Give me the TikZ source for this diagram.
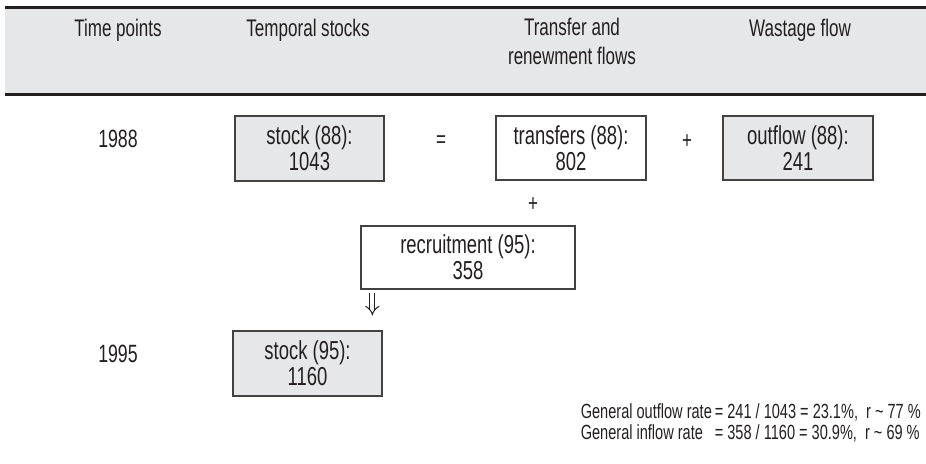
\documentclass[tikz,border=0pt]{standalone}
\usepackage{fontspec}
\setmainfont{Liberation Sans}[FakeStretch=0.71]
\usetikzlibrary{positioning,arrows.meta}
\definecolor{panelgray}{HTML}{E6E7E8}
\definecolor{inkgray}{HTML}{231F20}

\begin{document}
\begin{tikzpicture}[x=1pt, y=-1pt,
  every node/.style={text=inkgray, font=\fontsize{26}{26}\selectfont},
  box/.style={draw=inkgray!85, line width=1.2pt, align=center, minimum width=150pt, minimum height=64pt, inner sep=0pt},
  stockbox/.style={box, fill=panelgray},
  head/.style={align=center, font=\fontsize{24}{29}\selectfont, anchor=base},
  year/.style={anchor=base, font=\fontsize{25}{26}\selectfont},
  sign/.style={font=\fontsize{24}{24}\selectfont},
  imp/.style={draw=inkgray, line width=1pt, double, double distance=4pt, -{Implies}}]
  \useasboundingbox (0,0) rectangle (926,463);
  \fill[panelgray] (5,7) rectangle (926,94);
  \draw[inkgray, line width=3pt] (5,7) -- (926,7) (5,94) -- (926,94);
  \node[head] (hdtime) at (118,36) {Time points};
  \node[head] (hdstock) at (308,36) {Temporal stocks};
  \node[head] (hdflow) at (572,64) {Transfer and\\renewment flows};
  \node[head] (hdwaste) at (800,36) {Wastage flow};

  \node[year] (y88) at (118,147) {1988};
  \node[year] (y95) at (118,362) {1995};

  \node[stockbox, minimum width=149pt, minimum height=65pt] (st88) at (309.5,148.5) {stock (88):\\1043};
  \node[box] (tr88) at (571,148) {transfers (88):\\802};
  \node[stockbox] (out88) at (798,148) {outflow (88):\\241};
  \node[box, minimum width=214pt, minimum height=63pt] (rec95) at (468,257.5) {recruitment (95):\\358};
  \node[stockbox, minimum width=149pt, minimum height=65pt] (st95) at (307.5,363.5) {stock (95):\\1160};

  \node[sign] (eq) at (441,142) {=};
  \node[sign] (plus1) at (687,142) {+};
  \node[sign] (plus2) at (533,205) {+};

  \coordinate (arr) at ([xshift=12pt]rec95.south west);
  \draw[imp, shorten <=3pt, shorten >=15pt] (arr) -- (arr |- st95.north);

  \node[anchor=base east, inner sep=0pt, font=\fontsize{20.5}{20.5}\selectfont] (rates) at (921,418)
    {\begin{tabular}[t]{@{}l@{\hspace{3pt}}l@{}}
      General outflow rate & = 241 / 1043 = 23.1\%,\ \ r \textasciitilde{} 77 \%\\
      General inflow rate & = 358 / 1160 = 30.9\%,\ \ r \textasciitilde{} 69 \%
    \end{tabular}};
\end{tikzpicture}
\end{document}
